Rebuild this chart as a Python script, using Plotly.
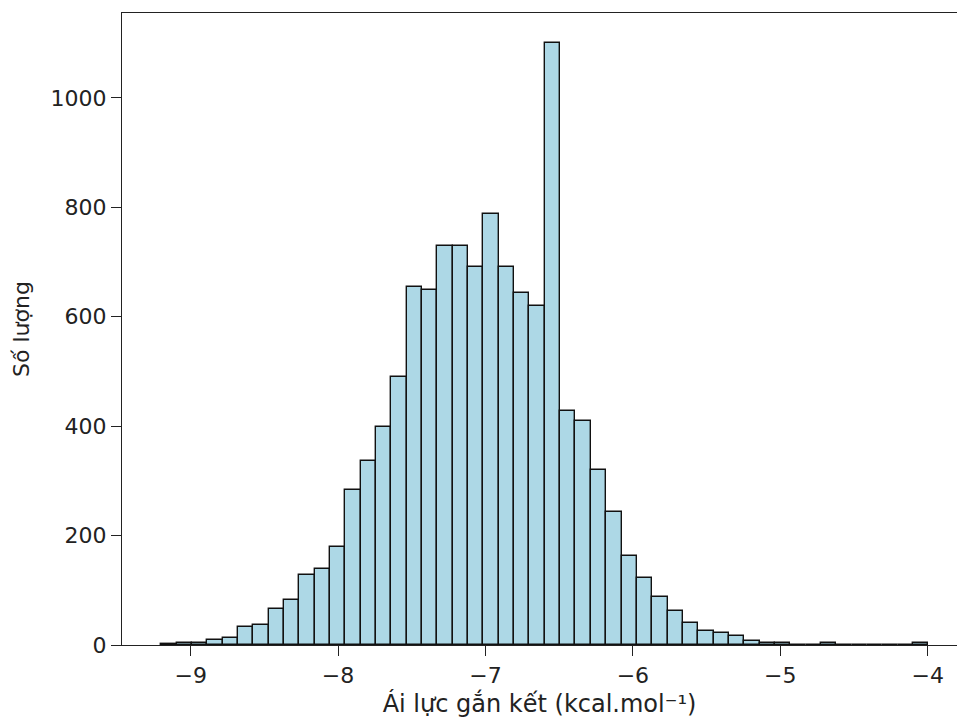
import plotly.graph_objects as go

# Histogram data (50 equal bins)
bin_start = -9.20
bin_width = 0.1041
counts = [2, 3, 3, 9, 13, 32, 37, 66, 82, 128,
          138, 179, 284, 337, 399, 490, 655, 649, 730, 730,
          690, 787, 690, 643, 619, 1100, 428, 409, 319, 243,
          162, 122, 87, 63, 40, 25, 22, 16, 7, 4,
          3, 0, 0, 3, 0, 0, 0, 0, 0, 3]
x_ticks = [-9, -8, -7, -6, -5, -4]
x_tick_labels = ["−9", "−8", "−7", "−6", "−5", "−4"]
y_ticks = [0, 200, 400, 600, 800, 1000]
y_tick_labels = ["0", "200", "400", "600", "800", "1000"]
x_title = "Ái lực gắn kết (kcal.mol⁻¹)"
y_title = "Số lượng"

centers = [bin_start + (i + 0.5) * bin_width for i in range(len(counts))]

fig = go.Figure(go.Bar(
    x=centers,
    y=counts,
    width=[bin_width] * len(counts),
    marker=dict(color="#ADD8E6", line=dict(color="#111111", width=1.4)),
    hoverinfo="x+y",
))

tick_font = dict(family="DejaVu Sans", size=22, color="#222222")
xtitle_font = dict(family="DejaVu Sans", size=24, color="#222222")
ytitle_font = dict(family="DejaVu Sans", size=22, color="#222222")

fig.update_layout(
    width=957,
    height=720,
    margin=dict(l=122, r=0, t=13, b=75, autoexpand=False),
    paper_bgcolor="white",
    plot_bgcolor="white",
    font=tick_font,
    showlegend=False,
    bargap=0,
)
fig.update_xaxes(
    range=[-9.466, -3.801],
    tickmode="array",
    tickvals=x_ticks,
    ticktext=x_tick_labels,
    ticks="outside",
    ticklen=10,
    tickwidth=1.3,
    tickcolor="#222222",
    showline=True,
    linecolor="#222222",
    linewidth=1.4,
    mirror=True,
    showgrid=False,
    zeroline=False,
    title=dict(text=x_title, font=xtitle_font, standoff=8),
    tickfont=tick_font,
)
fig.update_yaxes(
    range=[0, 1155],
    tickmode="array",
    tickvals=y_ticks,
    ticktext=y_tick_labels,
    ticks="outside",
    ticklen=10,
    tickwidth=1.3,
    tickcolor="#222222",
    showline=True,
    linecolor="#222222",
    linewidth=1.4,
    showgrid=False,
    zeroline=False,
    title=dict(text=y_title, font=ytitle_font, standoff=14),
    tickfont=tick_font,
)

fig.write_html(
    "out.html",
    config={"displayModeBar": False},
    post_script="document.body.style.margin='0px';document.body.style.overflow='hidden';",
)
